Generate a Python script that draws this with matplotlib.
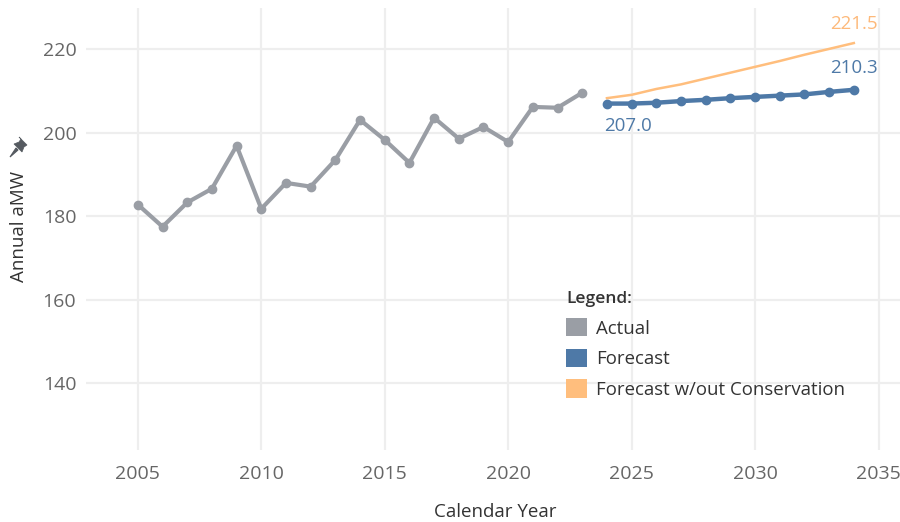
import matplotlib
matplotlib.use("Agg")
import matplotlib.pyplot as plt
from matplotlib.patches import Patch, Polygon

actual_years = list(range(2005, 2024))
actual_vals = [182.8, 177.5, 183.3, 186.6, 196.9, 181.8, 188.0, 187.1, 193.5, 203.1,
               198.3, 192.8, 203.6, 198.6, 201.4, 197.8, 206.2, 206.0, 209.6]
fc_years = list(range(2024, 2035))
fc_vals = [207.0, 207.0, 207.2, 207.6, 207.9, 208.3, 208.6, 208.9, 209.2, 209.8, 210.3]
nocons_vals = [208.3, 209.1, 210.5, 211.6, 213.0, 214.4, 215.8, 217.2, 218.7, 220.1, 221.5]
x_ticks = [2005, 2010, 2015, 2020, 2025, 2030, 2035]
y_ticks = [140, 160, 180, 200, 220]

GRAY = "#9a9ea5"
BLUE = "#4e79a7"
ORANGE = "#ffbe7d"
TXT = "#666666"
DARK = "#333333"

plt.rcParams['font.family'] = ['Open Sans', 'DejaVu Sans']

W, H = 900, 522
fig = plt.figure(figsize=(9, 5.22), dpi=100)
L, R, T, B = 86, 900, 8, 450
ax = fig.add_axes([L / W, 1 - B / H, (R - L) / W, (B - T) / H])

ax.plot(actual_years, actual_vals, color=GRAY, lw=3, marker='o', ms=6, zorder=3)
ax.plot(fc_years, nocons_vals, color=ORANGE, lw=1.8, zorder=3)
ax.plot(fc_years, fc_vals, color=BLUE, lw=3.2, marker='o', ms=6, zorder=4)

ax.annotate(f"{fc_vals[0]:.1f}", (fc_years[0], fc_vals[0]), xytext=(-2, -10),
            textcoords='offset points', color=BLUE, fontsize=13.5, ha='left', va='top')
ax.annotate(f"{fc_vals[-1]:.1f}", (fc_years[-1], fc_vals[-1]), xytext=(0, 9),
            textcoords='offset points', color=BLUE, fontsize=13.5, ha='center', va='bottom')
ax.annotate(f"{nocons_vals[-1]:.1f}", (fc_years[-1], nocons_vals[-1]), xytext=(0, 7),
            textcoords='offset points', color="#fdb97a", fontsize=13.5, ha='center',
            va='bottom')

ax.set_xlim(2002.9, 2035.87)
ax.set_ylim(124.0, 229.9)
ax.set_xticks(x_ticks)
ax.set_yticks(y_ticks)
ax.tick_params(axis='x', length=0, labelsize=14, labelcolor=TXT, pad=11)
ax.tick_params(axis='y', length=0, labelsize=14, labelcolor=TXT, pad=7)
for s in ax.spines.values():
    s.set_visible(False)
ax.grid(True, color="#eeeeee", lw=1.6)
ax.set_axisbelow(True)

fig.text(495 / W, 1 - 512 / H, "Calendar Year", fontsize=13.5, color=DARK,
         ha='center', va='center')
fig.text(19 / W, 1 - 226 / H, "Annual aMW", fontsize=13.5, color=DARK,
         ha='center', va='center', rotation=90)

# small pushpin icon next to the axis title
def fp(px, py):
    return (px / W, 1 - py / H)
pin_col = "#555a60"
head = Polygon([fp(19, 137), fp(27, 145), fp(24, 147), fp(22, 152), fp(14, 144),
                fp(19, 142), fp(21, 139)], closed=True, transform=fig.transFigure,
               facecolor=pin_col, edgecolor=pin_col, lw=0.5)
needle = Polygon([fp(16, 148), fp(18, 150), fp(10, 157)], closed=True,
                 transform=fig.transFigure, facecolor=pin_col, edgecolor=pin_col, lw=0.8)
fig.patches.extend([head, needle])

handles = [Patch(facecolor=GRAY, label="Actual"),
           Patch(facecolor=BLUE, label="Forecast"),
           Patch(facecolor=ORANGE, label="Forecast w/out Conservation")]
leg = fig.legend(handles=handles, title="Legend:", loc='upper left',
                 bbox_to_anchor=(566 / W, 1 - 291 / H),
                 frameon=False, fontsize=13.4, title_fontsize=12.5,
                 handlelength=1.13, handleheight=1.13, handletextpad=0.5,
                 labelspacing=0.6, borderpad=0, borderaxespad=0, alignment='left')
for t in leg.get_texts():
    t.set_color(DARK)
leg.get_title().set_color(DARK)
leg.get_title().set_fontweight('semibold')

fig.savefig("out.png", dpi=100)
